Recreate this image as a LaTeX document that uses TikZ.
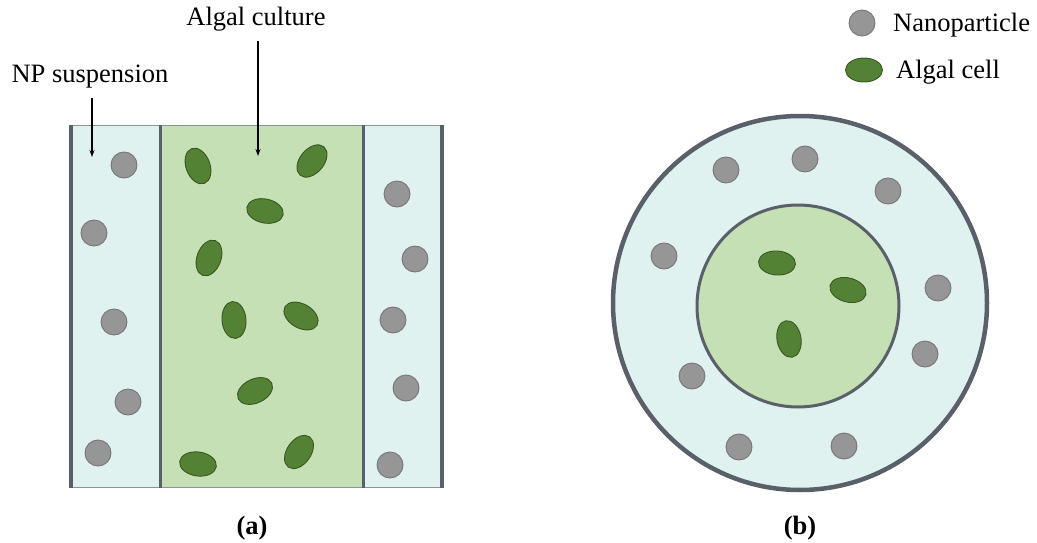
\documentclass[tikz,border=0pt]{standalone}
\usepackage{fontspec}
\setmainfont{Liberation Serif}
\usetikzlibrary{shapes.geometric,arrows.meta}
\definecolor{wallc}{RGB}{89,96,105}
\definecolor{edgec}{RGB}{140,146,152}
\definecolor{npfluid}{RGB}{223,242,239}
\definecolor{algfluid}{RGB}{197,224,180}
\definecolor{cellfill}{RGB}{84,130,53}
\definecolor{celldraw}{RGB}{56,87,35}
\definecolor{npfill}{RGB}{150,150,150}
\definecolor{npdraw}{RGB}{118,118,118}
\tikzset{
  np/.style={circle,draw=npdraw,fill=npfill,line width=0.9pt,minimum size=26pt,inner sep=0pt},
  cell/.style={ellipse,draw=celldraw,fill=cellfill,line width=0.9pt,minimum width=37pt,minimum height=24pt,inner sep=0pt},
  lbl/.style={font=\fontsize{26.5}{30}\selectfont,inner sep=0pt,anchor=base},
  pointer/.style={-{Stealth[length=7pt,width=5pt]},line width=1.3pt,black},
  wall/.style={wallc,line width=4pt},
  divider/.style={wallc,line width=3pt},
}
\begin{document}
\begin{tikzpicture}[x=1pt,y=-1pt]
\useasboundingbox (0,0) rectangle (1037,543);
% ---------- (a) ----------
\fill[npfluid] (71,125) rectangle (160,487);
\fill[algfluid] (160,125) rectangle (363,487);
\fill[npfluid] (363,125) rectangle (442,487);
\draw[edgec,line width=1.2pt] (71,125.5) -- (442,125.5);
\draw[edgec,line width=0.8pt] (71,487) -- (442,487);
\draw[wall] (71,125) -- (71,488);
\draw[wall] (442,125) -- (442,488);
\draw[divider] (160,125) -- (160,488);
\draw[divider] (363,125) -- (363,488);
% nanoparticles (a)
\node[np] (a1) at (124,165) {};
\node[np] (a2) at (94,233) {};
\node[np] (a3) at (114,322) {};
\node[np] (a4) at (128,402) {};
\node[np] (a5) at (98,453) {};
\node[np] (a6) at (397,194) {};
\node[np] (a7) at (415,259) {};
\node[np] (a8) at (393,320) {};
\node[np] (a9) at (406,388) {};
\node[np] (a10) at (390,465) {};
% algal cells (a)
\node[cell,rotate=-70] (c1) at (198,166) {};
\node[cell,rotate=50] (c2) at (312,161) {};
\node[cell,rotate=-12] (c3) at (265,211) {};
\node[cell,rotate=70] (c4) at (209,258) {};
\node[cell,rotate=-85] (c5) at (234,320) {};
\node[cell,rotate=-30] (c6) at (301,316) {};
\node[cell,rotate=25] (c7) at (255,391) {};
\node[cell,rotate=-8] (c8) at (198,464) {};
\node[cell,rotate=55] (c9) at (299,452) {};
% labels and pointers
\node[lbl] (lnp) at (90,82) {NP suspension};
\node[lbl] (lalg) at (256,26) {Algal culture};
\coordinate (tnp) at (92,157);
\coordinate (talg) at (258,156);
\draw[pointer] (lnp.south -| tnp) ++(0,10) -- (tnp);
\draw[pointer] (lalg.south -| talg) ++(0,9) -- (talg);
\node[lbl,font=\fontsize{26.5}{30}\selectfont\bfseries] (la) at (252,534) {(a)};
% ---------- (b) ----------
\node[circle,draw=wallc,fill=npfluid,line width=4.5pt,minimum size=374pt,inner sep=0pt] (outer) at (800,303) {};
\node[circle,draw=wallc,fill=algfluid,line width=3pt,minimum size=202pt,inner sep=0pt] (inner) at (798,306) {};
\node[np] (b1) at (726,170) {};
\node[np] (b2) at (805,159) {};
\node[np] (b3) at (888,191) {};
\node[np] (b4) at (664,256) {};
\node[np] (b5) at (938,288) {};
\node[np] (b6) at (925,354) {};
\node[np] (b7) at (692,376) {};
\node[np] (b8) at (739,447) {};
\node[np] (b9) at (844,446) {};
\node[cell,rotate=-4] (d1) at (777,263) {};
\node[cell,rotate=-15] (d2) at (848,290) {};
\node[cell,rotate=-80] (d3) at (789,339) {};
\node[lbl,font=\fontsize{26.5}{30}\selectfont\bfseries] (lb) at (800,534) {(b)};
% ---------- legend ----------
\node[np] (kn) at (862,23) {};
\node[cell] (kc) at (864,70) {};
\node[lbl,anchor=base west] (tn) at (893,32) {Nanoparticle};
\node[lbl,anchor=base west] (tc) at (896,78) {Algal cell};
\end{tikzpicture}
\end{document}
